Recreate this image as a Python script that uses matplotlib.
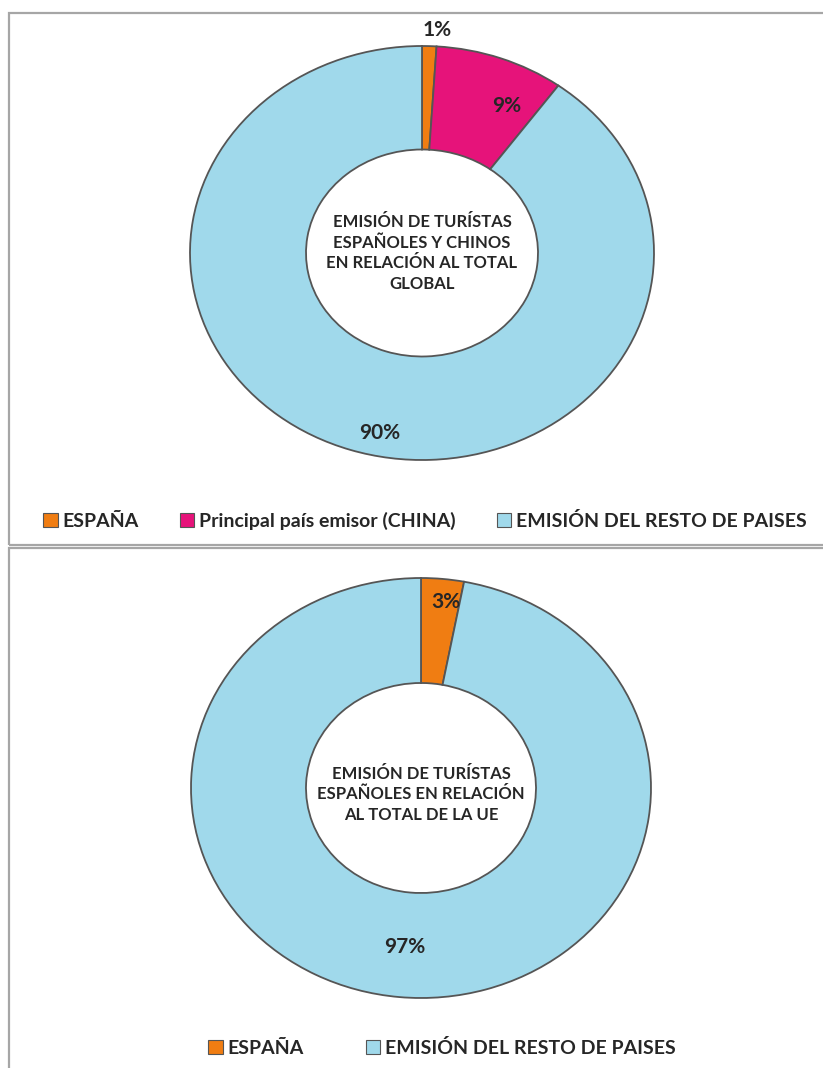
import numpy as np
import matplotlib.pyplot as plt
from matplotlib.patches import Rectangle, Patch

plt.rcParams['font.family'] = ['Lato', 'DejaVu Sans']

# datos (porcentajes)
pct_global = [1, 9, 90]
lab_global = ['ESPAÑA', 'Principal país emisor (CHINA)', 'EMISIÓN DEL RESTO DE PAISES']
pct_ue = [3, 97]
lab_ue = ['ESPAÑA', 'EMISIÓN DEL RESTO DE PAISES']

txt_global = 'EMISIÓN DE TURÍSTAS\nESPAÑOLES Y CHINOS\nEN RELACIÓN AL TOTAL\nGLOBAL'
txt_ue = 'EMISIÓN DE TURÍSTAS\nESPAÑOLES EN RELACIÓN\nAL TOTAL DE LA UE'

col_esp = '#F07D12'
col_china = '#E6137A'
col_resto = '#A0D9EB'
col_edge = '#555555'
col_txt = '#262626'

W, H = 823, 1068
fig = plt.figure(figsize=(W / 100, H / 100), dpi=100)


def fx(px):
    return px / W


def fy(py):
    return 1 - py / H


# marcos de los paneles
fig.patches.append(Rectangle((fx(9), fy(545)), 1.0, fy(13) - fy(545), transform=fig.transFigure,
                             fill=False, edgecolor='#A6A6A6', linewidth=1.6))
fig.patches.append(Rectangle((fx(9), fy(1075)), 1.0, fy(548) - fy(1075), transform=fig.transFigure,
                             fill=False, edgecolor='#A6A6A6', linewidth=1.6))


def donut(ax, vals, cols, lab_r, lab_dang, center_txt, txt_y):
    wedges, _ = ax.pie(vals, colors=cols, startangle=90, counterclock=False, radius=1,
                       wedgeprops=dict(width=0.5, edgecolor=col_edge, linewidth=1.3))
    # etiquetas de porcentaje (radio y pequeño giro respecto a la bisectriz)
    for w, v, r, da in zip(wedges, vals, lab_r, lab_dang):
        ang = np.deg2rad((w.theta1 + w.theta2) / 2 + da)
        ax.text(r * np.cos(ang), r * np.sin(ang), f'{v}%', ha='center', va='center',
                fontsize=15, fontweight='bold', color=col_txt)
    ax.text(0, txt_y, center_txt, ha='center', va='center', fontsize=12,
            fontweight='bold', color=col_txt, linespacing=1.35)
    ax.set_aspect('auto')
    ax.set_xlim(-1, 1)
    ax.set_ylim(-1, 1)
    ax.axis('off')
    for p in ax.patches:
        p.set_clip_on(False)
    return wedges


# panel superior
ax1 = fig.add_axes([fx(190), fy(460), fx(654) - fx(190), fy(46) - fy(460)])
donut(ax1, pct_global, [col_esp, col_china, col_resto], [1.08, 0.80, 0.89], [-1.7, -7.5, 6.3],
      txt_global, 0.0)

h1 = [Patch(facecolor=c, edgecolor=col_edge, linewidth=0.8, label=l)
      for c, l in zip([col_esp, col_china, col_resto], lab_global)]
fig.legend(handles=h1, loc='center', bbox_to_anchor=(fx(425), fy(521)), ncol=3, frameon=False,
           prop={'weight': 'bold', 'size': 14}, handlelength=0.75, handleheight=0.75,
           handletextpad=0.25, columnspacing=2.1, labelcolor=col_txt)

# panel inferior
ax2 = fig.add_axes([fx(191), fy(998), fx(651) - fx(191), fy(578) - fy(998)])
donut(ax2, pct_ue, [col_esp, col_resto], [0.89, 0.76], [-1.6, 0.0], txt_ue, -0.03)

h2 = [Patch(facecolor=c, edgecolor=col_edge, linewidth=0.8, label=l)
      for c, l in zip([col_esp, col_resto], lab_ue)]
fig.legend(handles=h2, loc='center', bbox_to_anchor=(fx(442), fy(1048)), ncol=2, frameon=False,
           prop={'weight': 'bold', 'size': 14}, handlelength=0.75, handleheight=0.75,
           handletextpad=0.25, columnspacing=3.2, labelcolor=col_txt)

plt.savefig('out.png', dpi=100)
